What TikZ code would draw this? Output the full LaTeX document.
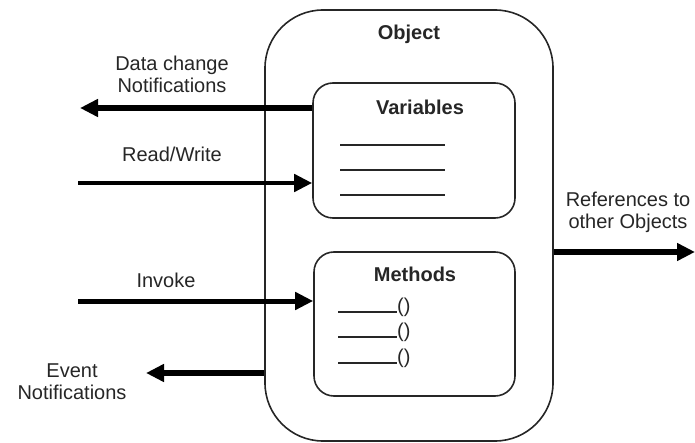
\documentclass[tikz,border=0pt]{standalone}
\usepackage{fontspec}
\setmainfont{Liberation Sans}
\usetikzlibrary{arrows.meta}
\begin{document}
\begin{tikzpicture}[x=1pt,y=-1pt,
  lbl/.style={font=\fontsize{20}{22}\selectfont, align=center, inner sep=0pt, text=black!85},
  ttl/.style={font=\fontsize{20}{22}\selectfont\bfseries, inner sep=0pt, text=black!85},
  boxr/.style={draw=black!85, line width=1.6pt, rounded corners=#1},
  arr/.style={line width=#1, -{Triangle[length=18pt,width=17pt]}},
  blank/.style={draw=black!85, line width=1.2pt}]
\useasboundingbox (0,0) rectangle (695,443);
% outer object box
\node[boxr=58pt, minimum width=288pt, minimum height=431pt, inner sep=0pt] (obj) at (409,225.5) {};
\node[ttl] (objt) at (409,34) {Object};
% variables box
\node[boxr=20pt, minimum width=202pt, minimum height=135pt, inner sep=0pt] (varbox) at (414,150.5) {};
\node[ttl] (vart) at (420,107) {Variables};
\foreach \yy/\nm in {145/blankA,170/blankB,195/blankC}{
  \coordinate (\nm-l) at (340,\yy); \coordinate (\nm-r) at (445,\yy);
  \draw[blank] (\nm-l) -- (\nm-r);
}
% methods box
\node[boxr=20pt, minimum width=201pt, minimum height=144pt, inner sep=0pt] (metbox) at (414.5,324) {};
\node[ttl] (mett) at (415,274) {Methods};
\foreach \yy/\nm in {312/mlineA,337/mlineB,363/mlineC}{
  \coordinate (\nm-l) at (338,\yy); \coordinate (\nm-r) at (397,\yy);
  \draw[blank] (\nm-l) -- (\nm-r);
  \node[lbl, anchor=base west] (\nm-p) at (\nm-r) {()};
}
% connectors
\coordinate (dcend) at (80,108);
\draw[arr=6pt] (varbox.west |- dcend) -- (dcend);
\node[lbl] (dct) at (172,74) {Data change\\Notifications};

\coordinate (rwstart) at (78,183);
\draw[arr=4.5pt] (rwstart) -- (varbox.west |- rwstart);
\node[lbl] (rwt) at (172,154) {Read/Write};

\coordinate (invstart) at (78,301);
\draw[arr=5pt] (invstart) -- (metbox.west |- invstart);
\node[lbl] (invt) at (166,280) {Invoke};

\coordinate (evend) at (146,373);
\draw[arr=6pt] (obj.west |- evend) -- (evend);
\node[lbl] (evt) at (72,382) {Event\\Notifications};

\coordinate (refend) at (695,252);
\draw[arr=6pt] (obj.east |- refend) -- (refend);
\node[lbl] (reft) at (628,212.5) {References to\\other Objects};
\end{tikzpicture}
\end{document}
